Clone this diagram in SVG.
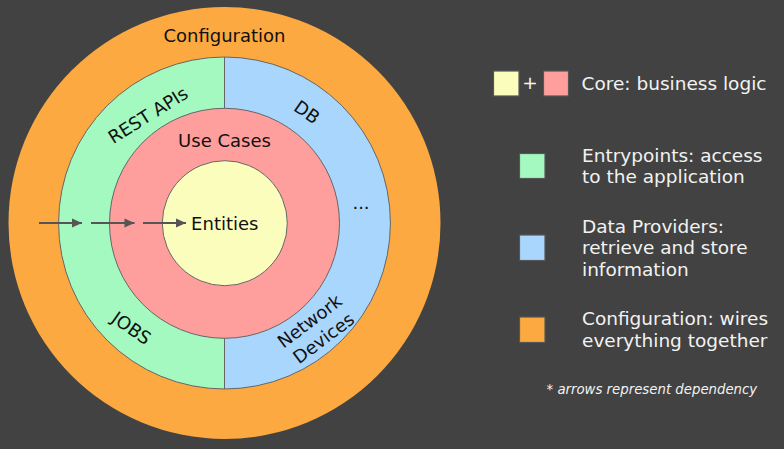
<svg xmlns="http://www.w3.org/2000/svg" width="784" height="449" viewBox="0 0 784 449">
<style>
.lbl{font-family:"DejaVu Sans","Liberation Sans",sans-serif;font-size:18px;fill:#111;text-anchor:middle}
.leg{font-family:"DejaVu Sans","Liberation Sans",sans-serif;font-size:18.5px;fill:#f2f2f2}
.ring{stroke:#666;stroke-width:1}
.sq{stroke:#555;stroke-width:1.2}
.arrow{stroke:#555;stroke-width:2;fill:none;marker-end:url(#ah)}
</style>
<defs>
<marker id="ah" viewBox="0 0 10 10" refX="10" refY="5" markerWidth="11" markerHeight="10" markerUnits="userSpaceOnUse" orient="auto">
<path d="M0,0.5 L10,5 L0,9.5 Z" fill="#555"/>
</marker>
</defs>
<rect x="0" y="0" width="784" height="449" fill="#424242"/>
<g id="configuration">
<circle cx="224.5" cy="223" r="216" fill="#FBA940"/>
<text class="lbl" x="224.5" y="42" font-size="19">Configuration</text>
</g>
<g id="entrypoints">
<path class="ring" d="M224.5,57 A166,166 0 0 0 224.5,389 Z" fill="#A3F9BF"/>
<text class="lbl" transform="translate(148,115) rotate(-32)" y="6.5" font-size="18.5">REST APIs</text>
<text class="lbl" transform="translate(131.5,328) rotate(35)" y="6.5" font-size="18.5">JOBS</text>
</g>
<g id="data-providers">
<path class="ring" d="M224.5,57 A166,166 0 0 1 224.5,389 Z" fill="#A9D6FC"/>
<text class="lbl" transform="translate(307,112) rotate(35)" y="6.5" font-size="18.5">DB</text>
<text class="lbl" x="361" y="209">...</text>
<text class="lbl" transform="translate(309.5,321) rotate(-37)" y="6.5" font-size="18.5">Network</text>
<text class="lbl" transform="translate(323.5,338) rotate(-37)" y="6.5" font-size="18.5">Devices</text>
</g>
<g id="use-cases">
<circle class="ring" cx="224.5" cy="223.3" r="115" fill="#FF9F9D"/>
<text class="lbl" x="224.5" y="147">Use Cases</text>
</g>
<g id="entities">
<circle class="ring" cx="224.8" cy="223.2" r="62.5" fill="#FBFDBD"/>
<text class="lbl" x="224.8" y="229.5" font-size="18.5">Entities</text>
</g>
<g id="connectors">
<line class="arrow" x1="39" y1="223" x2="82" y2="223"/>
<line class="arrow" x1="91" y1="223" x2="134.5" y2="223"/>
<line class="arrow" x1="143" y1="223" x2="186" y2="223"/>
</g>
<g id="legend-core">
<rect class="sq" x="493.5" y="71" width="25.5" height="25" fill="#FBFDBD"/>
<text class="leg" x="530" y="89" text-anchor="middle" font-size="15">+</text>
<rect class="sq" x="543.5" y="71" width="25" height="25" fill="#FF9F9D"/>
<text class="leg" x="581.5" y="90">Core: business logic</text>
</g>
<g id="legend-entrypoints">
<rect class="sq" x="519.5" y="153.5" width="25.5" height="25" fill="#A3F9BF"/>
<text class="leg" x="582" y="161.7">Entrypoints: access</text>
<text class="leg" x="582" y="183.3">to the application</text>
</g>
<g id="legend-data-providers">
<rect class="sq" x="519.5" y="235" width="25.5" height="25.5" fill="#A9D6FC"/>
<text class="leg" x="582" y="232.7">Data Providers:</text>
<text class="leg" x="582" y="254.3">retrieve and store</text>
<text class="leg" x="582" y="275.7">information</text>
</g>
<g id="legend-configuration">
<rect class="sq" x="519.5" y="317" width="25.5" height="25.5" fill="#FBA940"/>
<text class="leg" x="582" y="325">Configuration: wires</text>
<text class="leg" x="582" y="346.7">everything together</text>
</g>
<text x="546.5" y="394" font-family="DejaVu Sans, Liberation Sans, sans-serif" font-size="13.3" font-style="italic" fill="#f2f2f2">* arrows represent dependency</text>
</svg>
